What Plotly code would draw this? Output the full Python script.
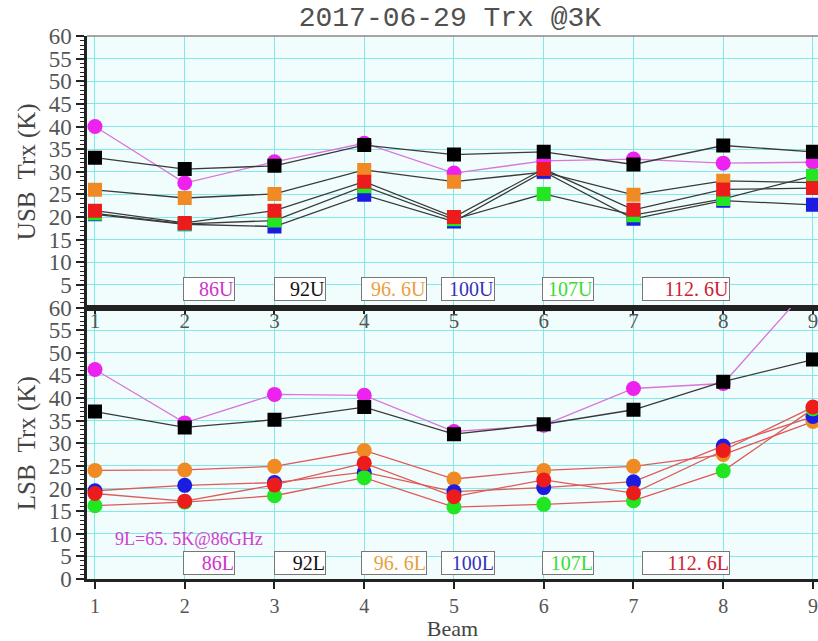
import plotly.graph_objects as go

# Beam numbers
beams = [1, 2, 3, 4, 5, 6, 7, 8, 9]

# USB receiver temperature (K) per band
usb_86 = [40.0, 27.5, 32.2, 36.3, 29.7, 32.4, 32.8, 31.9, 32.1]
usb_92 = [33.1, 30.6, 31.3, 35.9, 33.8, 34.4, 31.6, 35.8, 34.4]
usb_96 = [26.0, 24.2, 25.1, 30.4, 27.8, 29.9, 24.9, 28.0, 27.6]
usb_100 = [20.6, 18.4, 17.9, 24.9, 19.0, 30.0, 19.6, 23.6, 22.7]
usb_107 = [20.8, 18.5, 19.2, 26.8, 19.5, 25.1, 20.4, 24.0, 29.1]
usb_112 = [21.4, 18.7, 21.4, 27.8, 20.0, 30.6, 21.6, 26.1, 26.4]

# LSB receiver temperature (K) per band
lsb_86 = [46.3, 34.5, 40.8, 40.6, 32.6, 34.0, 42.1, 43.2, 65.5]
lsb_92 = [37.0, 33.5, 35.2, 38.0, 32.0, 34.2, 37.4, 43.6, 48.5]
lsb_96 = [24.0, 24.1, 24.9, 28.4, 22.1, 24.0, 24.9, 27.5, 34.8]
lsb_100 = [19.5, 20.7, 21.3, 23.6, 19.3, 20.2, 21.5, 29.4, 35.9]
lsb_107 = [16.2, 17.0, 18.4, 22.4, 15.9, 16.5, 17.3, 23.9, 37.6]
lsb_112 = [18.9, 17.2, 20.8, 25.6, 18.2, 21.9, 19.0, 28.4, 38.0]

band_names = ["86", "92", "96. 6", "100", "107", "112. 6"]
band_colors = ["#ee22ee", "#000000", "#f08a24", "#1c1ce0", "#22e622", "#ec1c1c"]
label_colors = ["#cc33cc", "#111111", "#e8a040", "#3333bb", "#33dd33", "#cc2233"]
box_left = [1.98, 3.0, 3.96, 4.86, 5.98, 7.09]
box_width = [50, 50, 64, 52, 50, 86]

usb_series = [usb_86, usb_92, usb_96, usb_100, usb_107, usb_112]
lsb_series = [lsb_86, lsb_92, lsb_96, lsb_100, lsb_107, lsb_112]

SERIF = "Liberation Serif, DejaVu Serif, serif"
MONO = "Liberation Mono, DejaVu Sans Mono, monospace"
GRID = "#84e8e6"
XR = [0.911, 9.056]

fig = go.Figure()

# upper panel: USB, squares except 86 GHz
for i, vals in enumerate(usb_series):
    line_col = "#d877d8" if i == 0 else "#3a3a3a"
    fig.add_trace(go.Scatter(
        x=beams, y=vals, mode="lines+markers", xaxis="x", yaxis="y",
        line=dict(color=line_col, width=1.3),
        marker=dict(symbol="circle" if i == 0 else "square", size=15 if i == 0 else 14,
                    color=band_colors[i], line=dict(width=0)),
        showlegend=False, cliponaxis=True))

# lower panel: LSB, circles except 92 GHz
for i, vals in enumerate(lsb_series):
    if i == 0:
        line_col = "#d877d8"
    elif i == 1:
        line_col = "#3a3a3a"
    else:
        line_col = "#e05a5a"
    fig.add_trace(go.Scatter(
        x=beams, y=vals, mode="lines+markers", xaxis="x2", yaxis="y2",
        line=dict(color=line_col, width=1.3),
        marker=dict(symbol="square" if i == 1 else "circle", size=14 if i == 1 else 15,
                    color=band_colors[i], line=dict(width=0)),
        showlegend=False, cliponaxis=True))

# beam labels along the top of the lower panel
fig.add_trace(go.Scatter(x=[None], y=[None], xaxis="x3", yaxis="y3", showlegend=False))

annotations = []
for i, name in enumerate(band_names):
    for suffix, xr, yr, yv in (("U", "x", "y", 4.2), ("L", "x2", "y2", 3.5)):
        annotations.append(dict(
            x=box_left[i], y=yv, xref=xr, yref=yr, xanchor="left", yanchor="middle",
            text=name + suffix, showarrow=False, align="right", width=box_width[i],
            font=dict(family=SERIF, size=20, color=label_colors[i]),
            bgcolor="white", bordercolor="#777777", borderwidth=1, borderpad=0))
annotations.append(dict(
    x=1.2, y=8.9, xref="x2", yref="y2", xanchor="left", yanchor="middle",
    text="9L=65. 5K@86GHz", showarrow=False,
    font=dict(family=SERIF, size=18, color="#d040d0")))

yaxis_common = dict(
    range=[0, 60], dtick=5, ticks="outside", ticklen=8, tickwidth=1.5, tickcolor="#222",
    showline=True, linecolor="#222", linewidth=2.5,
    showgrid=True, gridcolor=GRID, gridwidth=1.3, zeroline=False,
    minor=dict(dtick=1, ticks="outside", ticklen=4, tickwidth=1, tickcolor="#222", showgrid=False),
    tickfont=dict(family=SERIF, size=23, color="#555"),
    automargin=False, fixedrange=True)

fig.update_layout(
    width=818, height=641,
    margin=dict(l=87, r=0, t=36, b=62),
    paper_bgcolor="white", plot_bgcolor="#f1fcfc",
    title=dict(text="2017-06-29 Trx @3K", x=0.55, xanchor="center", y=0.975,
               yanchor="middle", yref="container",
               font=dict(family=MONO, size=28, color="#505050")),
    xaxis=dict(domain=[0, 1], range=XR, anchor="y", tickvals=beams, showticklabels=False,
               ticks="", showline=True, linecolor="#222", linewidth=2.5,
               showgrid=True, gridcolor=GRID, gridwidth=1.3, zeroline=False),
    yaxis=dict(domain=[0.5, 1], anchor="x", tickvals=list(range(5, 61, 5)),
               title=dict(text="USB\u00a0 Trx (K)", standoff=6,
                          font=dict(family=SERIF, size=25, color="#444")),
               **yaxis_common),
    xaxis2=dict(domain=[0, 1], range=XR, anchor="y2", tickvals=beams,
                ticks="outside", ticklen=7, tickwidth=1.5, tickcolor="#222",
                showline=True, linecolor="#222", linewidth=2.5,
                showgrid=True, gridcolor=GRID, gridwidth=1.3, zeroline=False,
                tickfont=dict(family=SERIF, size=20, color="#555"),
                ticklabeloverflow="allow",
                title=dict(text="Beam", standoff=1,
                           font=dict(family=SERIF, size=22, color="#444")),
                automargin=False),
    xaxis3=dict(range=XR, anchor="y3", overlaying="x2", side="top", tickvals=beams,
                ticks="inside", ticklen=7, tickwidth=1.5, tickcolor="#222",
                ticklabelposition="inside", ticklabeloverflow="allow",
                showgrid=False, showline=True,
                linecolor="#222", linewidth=2.5, zeroline=False,
                tickfont=dict(family=SERIF, size=21, color="#555")),
    yaxis2=dict(domain=[0, 0.5], anchor="x2", tickvals=list(range(0, 61, 5)),
                title=dict(text="LSB\u00a0 Trx (K)", standoff=6,
                           font=dict(family=SERIF, size=25, color="#444")),
                **yaxis_common),
    yaxis3=dict(domain=[0, 0.5], range=[0, 60], anchor="x3", overlaying="y2",
                showticklabels=False, showgrid=False, showline=False, ticks="",
                zeroline=False),
    annotations=annotations,
    shapes=[dict(type="line", xref="paper", yref="paper", x0=0, x1=1, y0=1, y1=1,
                 line=dict(color="#888", width=1.5))],
)

fig.write_html("out.html")
